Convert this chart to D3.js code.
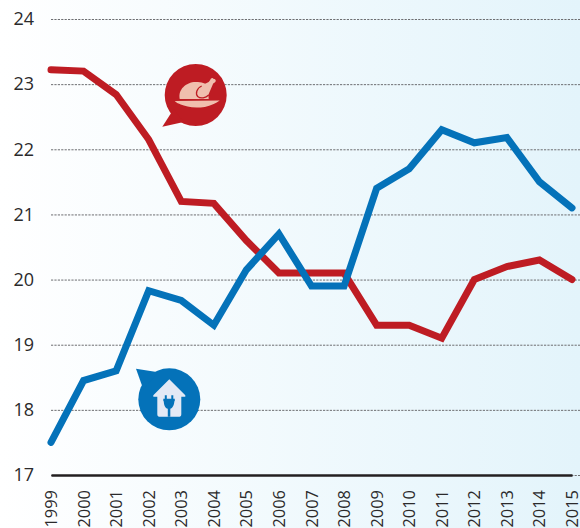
<!DOCTYPE html>
<html>
<head>
<meta charset="utf-8">
<script src="https://cdn.jsdelivr.net/npm/d3@7"></script>
<style>
    html, body { margin: 0; padding: 0; background: #fff; }
    svg { display: block; }
    text { font-family: "Open Sans", Lato, sans-serif; fill: #2b2a2b; }
</style>
</head>
<body>
<script>
const years = [1999, 2000, 2001, 2002, 2003, 2004, 2005, 2006, 2007, 2008, 2009, 2010, 2011, 2012, 2013, 2014, 2015];
const poultry = [23.22, 23.2, 22.84, 22.15, 21.2, 21.17, 20.6, 20.1, 20.1, 20.1, 19.3, 19.3, 19.1, 20.0, 20.2, 20.3, 20.0];
const electricity = [17.5, 18.45, 18.6, 19.83, 19.68, 19.3, 20.15, 20.7, 19.9, 19.9, 21.4, 21.7, 22.3, 22.1, 22.18, 21.5, 21.1];
const yTicks = [17, 18, 19, 20, 21, 22, 23, 24];

const width = 580;
const height = 528;

const svg = d3.select('body')
    .append('svg')
    .attr('width', width)
    .attr('height', height);

const grad = svg.append('defs')
    .append('linearGradient')
    .attr('id', 'bg');
grad.append('stop').attr('offset', '0%').attr('stop-color', '#ffffff');
grad.append('stop').attr('offset', '100%').attr('stop-color', '#e3f4fb');

svg.append('rect')
    .attr('width', width)
    .attr('height', height)
    .attr('fill', 'url(#bg)');

const x = d3.scaleLinear().domain([1999, 2015]).range([51, 572]);
const y = d3.scaleLinear().domain([17, 24]).range([475, 19]);

// gridlines + y labels
const yAxis = svg.append('g')
    .attr('transform', 'translate(51,0)')
    .call(d3.axisLeft(y).tickValues(yTicks).tickFormat(d3.format('d')).tickSize(-(width - 51)).tickPadding(17));
yAxis.select('.domain').remove();
yAxis.selectAll('.tick line')
    .attr('stroke', '#6d6e71')
    .attr('stroke-width', 1)
    .attr('stroke-dasharray', '2.2 1.2');
yAxis.selectAll('.tick text')
    .attr('font-size', 18);

// x axis
const xAxis = svg.append('g')
    .attr('transform', `translate(0,${y(17)})`)
    .call(d3.axisBottom(x).tickValues(years).tickFormat(d3.format('d')).tickSize(0));
xAxis.select('.domain')
    .attr('stroke', '#231f20')
    .attr('stroke-width', 2.6);
xAxis.selectAll('.tick text')
    .attr('font-size', 16.4)
    .attr('text-anchor', 'end')
    .attr('dy', 0)
    .attr('y', 0)
    .attr('transform', 'translate(5.5,15) rotate(-90)');

const line = d3.line()
    .x((d, i) => x(years[i]))
    .y(d => y(d));

[[poultry, '#be1c23'], [electricity, '#0472b9']].forEach(([values, color]) => {
    svg.append('path')
        .attr('d', line(values))
        .attr('fill', 'none')
        .attr('stroke', color)
        .attr('stroke-width', 7)
        .attr('stroke-linecap', 'round')
        .attr('stroke-linejoin', 'miter');
});

// chicken bubble
const chicken = svg.append('g').attr('transform', 'translate(195.7,95)');
chicken.append('circle').attr('r', 31).attr('fill', '#be1c23');
chicken.append('path')
    .attr('d', 'M-22,14 L-33.4,31.7 L-12,27 Z')
    .attr('fill', '#be1c23');
chicken.append('path')
    .attr('d', 'M-16,4 C-18,-5 -10,-13 0,-13 C6,-13 10,-12 12,-9 L13,4 Z')
    .attr('fill', '#f0bfae');
chicken.append('path')
    .attr('d', 'M3,-8 L13,-13 L14.5,-15 C15,-17 17,-18 18,-16 C20,-16 21,-14 19,-12.5 L17.5,-11.5 L13,-1 C11,3 5,4 2,2 C-1,0 0,-6 3,-8 Z')
    .attr('fill', '#f0bfae');
chicken.append('path')
    .attr('d', 'M6,-9 C1,-7 -0.5,-1 2,1.5 C5,4 10,3 13,0')
    .attr('fill', 'none')
    .attr('stroke', '#be1c23')
    .attr('stroke-width', 1.3);
chicken.append('path')
    .attr('d', 'M-21,6 L24,5.5 C22,7 20,8 18,9 C12,12 6,12.5 1,12.5 C-6,12.5 -11,11 -15,9.5 C-17,8.5 -19,8 -21,6 Z')
    .attr('fill', '#f0bfae');

// house/plug bubble
const house = svg.append('g').attr('transform', 'translate(169.3,399.3)');
house.append('circle').attr('r', 31).attr('fill', '#0472b9');
house.append('path')
    .attr('d', 'M-33.3,-30.6 L-11,-27 L-26,-10 Z')
    .attr('fill', '#0472b9');
house.append('path')
    .attr('d', 'M0,-20 L16,-4 L16,-2.5 L12,-2.5 L12,15 C12,17 11,17.5 9,17.5 L-9,17.5 C-11,17.5 -12,17 -12,15 L-12,-2.5 L-16,-2.5 L-16,-4 Z')
    .attr('fill', '#e3e9f5');
house.append('path')
    .attr('d', 'M-4.5,-4 L-2.5,-4 L-2.5,-0.5 L2,-0.5 L2,-4 L4,-4 L4,-0.5 L5.5,-0.5 L5.5,2 L5,2 C5,6 3,9 1,9.5 L1,17.5 L-1.5,17.5 L-1.5,9.5 C-4,9 -5.5,6 -5.5,2 L-6,2 L-6,-0.5 L-4.5,-0.5 Z')
    .attr('fill', '#0472b9');
</script>
</body>
</html>
